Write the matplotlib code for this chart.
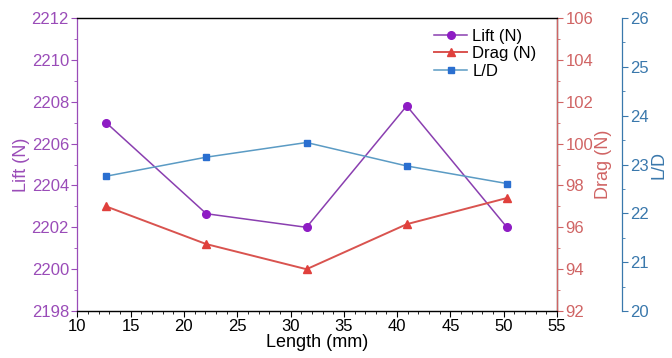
import matplotlib
matplotlib.use("Agg")
import matplotlib.pyplot as plt
from matplotlib.ticker import MultipleLocator

plt.rcParams['font.family'] = ['Liberation Sans', 'DejaVu Sans']

length_mm = [12.7, 22.1, 31.5, 40.9, 50.3]
lift_n = [2207.0, 2202.65, 2202.0, 2207.8, 2202.0]
drag_n = [97.0, 95.2, 94.0, 96.15, 97.4]
l_over_d = [22.76, 23.15, 23.45, 22.97, 22.61]

c_lift_mk = '#8E1CC4'
c_lift_ln = '#8A3FB0'
c_lift_tx = '#9A4CB8'
c_drag_mk = '#E0403C'
c_drag_ln = '#D9534F'
c_drag_tx = '#D06464'
c_ld_mk = '#2A6FD0'
c_ld_ln = '#5B9BC4'
c_ld_tx = '#3A78AC'

fig = plt.figure(figsize=(6.72, 3.58), dpi=100)
ax = fig.add_axes([0.115, 0.131, 0.714, 0.819])
ax2 = ax.twinx()
ax3 = ax.twinx()
ax3.spines['right'].set_position(('axes', 1.135))

fs = 12
l1, = ax.plot(length_mm, lift_n, color=c_lift_ln, lw=1.1, marker='o', ms=5.5,
              mfc=c_lift_mk, mec=c_lift_mk, label='Lift (N)')
l2, = ax2.plot(length_mm, drag_n, color=c_drag_ln, lw=1.4, marker='^', ms=6,
               mfc=c_drag_mk, mec=c_drag_mk, label='Drag (N)')
l3, = ax3.plot(length_mm, l_over_d, color=c_ld_ln, lw=1.1, marker='s', ms=4.3,
               mfc=c_ld_mk, mec=c_ld_mk, label='L/D')

ax.set_xlim(10, 55)
ax.set_ylim(2198, 2212)
ax2.set_ylim(92, 106)
ax3.set_ylim(20, 26)

ax.xaxis.set_major_locator(MultipleLocator(5))
ax.xaxis.set_minor_locator(MultipleLocator(1))
ax.yaxis.set_major_locator(MultipleLocator(2))
ax.yaxis.set_minor_locator(MultipleLocator(1))
ax2.yaxis.set_major_locator(MultipleLocator(2))
ax2.yaxis.set_minor_locator(MultipleLocator(1))
ax3.yaxis.set_major_locator(MultipleLocator(1))
ax3.yaxis.set_minor_locator(MultipleLocator(0.5))

ax.set_xlabel('Length (mm)', fontsize=13, labelpad=0)
ax.set_ylabel('Lift (N)', fontsize=13, color=c_lift_tx, labelpad=1)
ax2.set_ylabel('Drag (N)', fontsize=13, color=c_drag_tx, labelpad=1)
ax3.set_ylabel('L/D', fontsize=13, color=c_ld_tx, labelpad=1)

ax.tick_params(axis='x', which='major', direction='out', length=4, labelsize=fs, pad=2)
ax.tick_params(axis='x', which='minor', direction='out', length=2)
ax.tick_params(axis='y', which='major', direction='out', length=4, labelsize=fs,
               colors=c_lift_tx, pad=2)
ax.tick_params(axis='y', which='minor', direction='out', length=2, colors=c_lift_tx)
ax2.tick_params(axis='y', which='major', direction='out', length=4, labelsize=fs,
                colors=c_drag_tx, pad=2)
ax2.tick_params(axis='y', which='minor', direction='out', length=2, colors=c_drag_tx)
ax3.tick_params(axis='y', which='major', direction='out', length=4, labelsize=fs,
                colors=c_ld_tx, pad=2)
ax3.tick_params(axis='y', which='minor', direction='out', length=2, colors=c_ld_tx)

for s in ['left', 'right', 'top', 'bottom']:
    ax.spines[s].set_linewidth(0.9)
    ax2.spines[s].set_linewidth(0.9)
    ax3.spines[s].set_linewidth(0.9)
ax.spines['left'].set_color(c_lift_tx)
ax2.spines['left'].set_visible(False)
ax2.spines['right'].set_color(c_drag_tx)
ax3.spines['left'].set_visible(False)
ax3.spines['top'].set_visible(False)
ax3.spines['bottom'].set_visible(False)
ax3.spines['right'].set_color(c_ld_tx)
ax.spines['top'].set_color('#444444')
ax.spines['bottom'].set_color('#444444')

leg = ax.legend(handles=[l1, l2, l3], loc='upper right', bbox_to_anchor=(0.98, 1.0),
                frameon=False, fontsize=fs, handlelength=2.0, handletextpad=0.3,
                labelspacing=0.15, borderaxespad=0.25)

fig.savefig('out.png', dpi=100)
